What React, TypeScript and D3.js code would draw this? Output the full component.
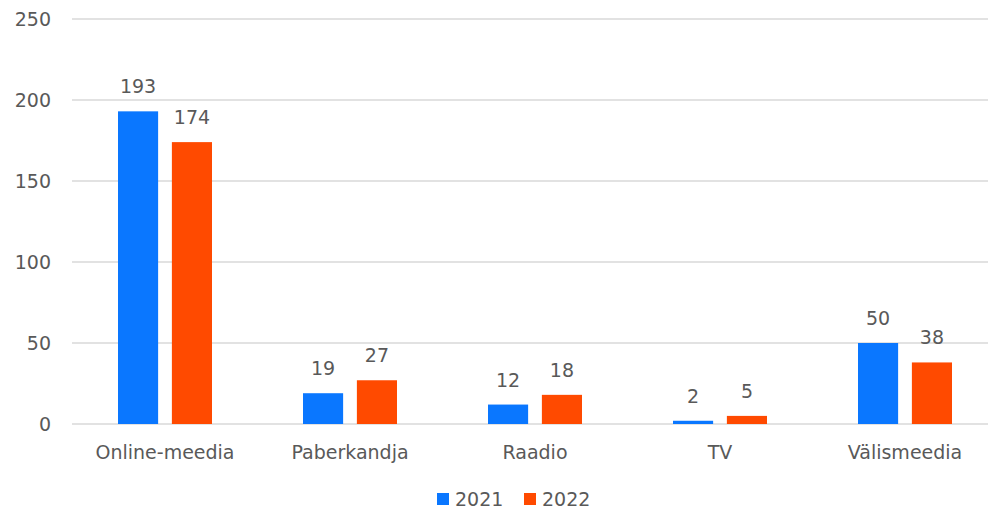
import React from 'react';
import * as d3 from 'd3';

const categories = ['Online-meedia', 'Paberkandja', 'Raadio', 'TV', 'Välismeedia'];
const years = ['2021', '2022'];
const values2021 = [193, 19, 12, 2, 50];
const values2022 = [174, 27, 18, 5, 38];
const yTicks = [0, 50, 100, 150, 200, 250];

const colors = ['#0A77FF', '#FF4A00'];
const W = 988;
const H = 511;
const font = '"DejaVu Sans", sans-serif';
const textColor = '#595959';

const App = () => {
  const series = [values2021, values2022];

  // plot area
  const x = d3.scaleBand().domain(categories).range([72.5, 997.5]);
  const y = d3.scaleLinear().domain([0, 250]).range([424, 19]);
  const inner = d3.scaleBand().domain(years).range([45.5, 139.5]).paddingInner(12 / 47);

  return (
    <svg width={W} height={H} style={{ position: 'absolute', left: 0, top: 0 }}>
      <rect width={W} height={H} fill="#fff" />
      {/* gridlines */}
      {yTicks.map((t) => (
        <g key={t}>
          <line x1={72} x2={W} y1={y(t)} y2={y(t)} stroke="#d9d9d9" strokeWidth={1.5} />
          <text x={51} y={y(t)} dy="0.36em" textAnchor="end" fontFamily={font} fontSize={19} fill={textColor}>
            {t}
          </text>
        </g>
      ))}

      {/* bars */}
      {categories.map((c, i) => (
        <g key={c} transform={`translate(${x(c)},0)`}>
          {years.map((yr, j) => {
            const v = series[j][i];
            const bx = inner(yr)!;
            return (
              <g key={yr}>
                <rect x={bx} y={y(v)} width={inner.bandwidth()} height={y(0) - y(v)} fill={colors[j]} />
                <text
                  x={bx + inner.bandwidth() / 2}
                  y={y(v) - 18}
                  textAnchor="middle"
                  fontFamily={font}
                  fontSize={19}
                  fill={textColor}
                >
                  {v}
                </text>
              </g>
            );
          })}
          <text
            x={x.bandwidth() / 2}
            y={459}
            textAnchor="middle"
            fontFamily={font}
            fontSize={19}
            fill={textColor}
          >
            {c}
          </text>
        </g>
      ))}

      {/* legend */}
      {years.map((yr, j) => (
        <g key={yr} transform={`translate(${437 + j * 87},0)`}>
          <rect x={0} y={493} width={12} height={12} fill={colors[j]} />
          <text x={18} y={499} dy="0.36em" fontFamily={font} fontSize={19} fill={textColor}>
            {yr}
          </text>
        </g>
      ))}
    </svg>
  );
};

export default App;
